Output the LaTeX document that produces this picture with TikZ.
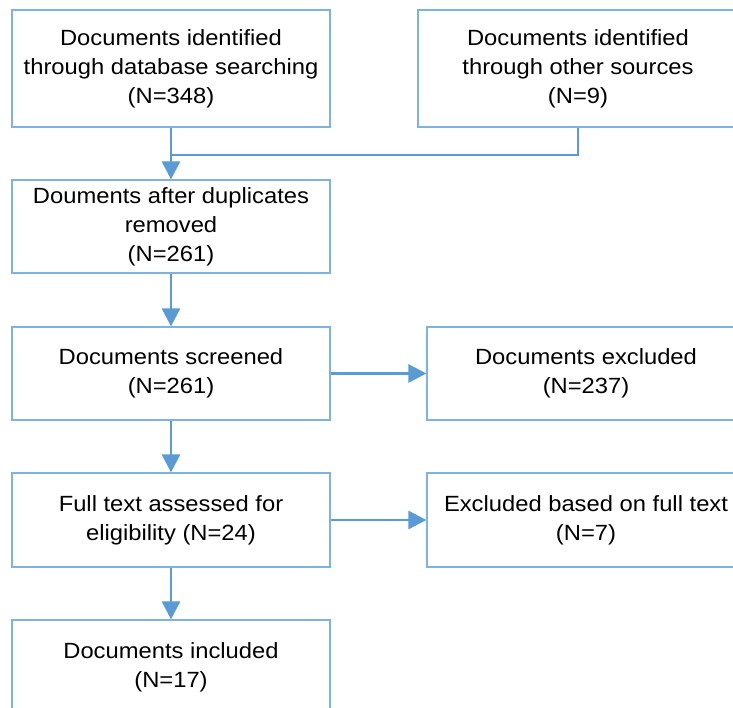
\documentclass[tikz,border=0pt]{standalone}
\usepackage{fontspec}
\setmainfont[FakeStretch=1.08]{Liberation Sans}
\usetikzlibrary{arrows.meta}
\definecolor{arrowblue}{RGB}{91,155,213}
\definecolor{boxblue}{RGB}{125,178,225}
\begin{document}
\begin{tikzpicture}[x=1pt,y=-1pt,
  box/.style={draw=boxblue,line width=1.2pt,align=center,inner sep=0pt,
    minimum width=318pt,font=\fontsize{22}{29}\selectfont},
  conn/.style={draw=arrowblue,line width=2.8pt},
  arr/.style={conn,-{Triangle[length=18pt,width=18pt]}}]
\clip (0,0) rectangle (733,708);
\fill[white] (0,0) rectangle (733,708);
\node[box,minimum height=117pt] (b1) at (171,68.5) {Documents identified\\through database searching\\(N=348)};
\node[box,minimum height=117pt,minimum width=320pt] (b2) at (578,68.5) {Documents identified\\through other sources\\(N=9)};
\node[box,minimum height=93pt] (b3) at (171,226.5) {Douments after duplicates\\removed\\(N=261)};
\node[box,minimum height=93pt] (b4) at (171,373.5) {Documents screened\\(N=261)};
\node[box,minimum height=93pt] (b5) at (586,373.5) {Documents excluded\\(N=237)};
\node[box,minimum height=94pt] (b6) at (171,520) {Full text assessed for\\eligibility (N=24)};
\node[box,minimum height=94pt] (b7) at (586,520) {Excluded based on full text\\(N=7)};
\node[box,minimum height=94pt] (b8) at (171,667) {Documents included\\(N=17)};
\coordinate (j) at (171,155);
\draw[conn] (b2.south) |- (j);
\draw[arr] (b1.south) -- (b3.north);
\draw[arr] (b3.south) -- (b4.north);
\draw[arr] (b4.south) -- (b6.north);
\draw[arr] (b6.south) -- (b8.north);
\draw[arr] (b4.east) -- (b5.west);
\draw[arr] (b6.east) -- (b7.west);
\end{tikzpicture}
\end{document}
